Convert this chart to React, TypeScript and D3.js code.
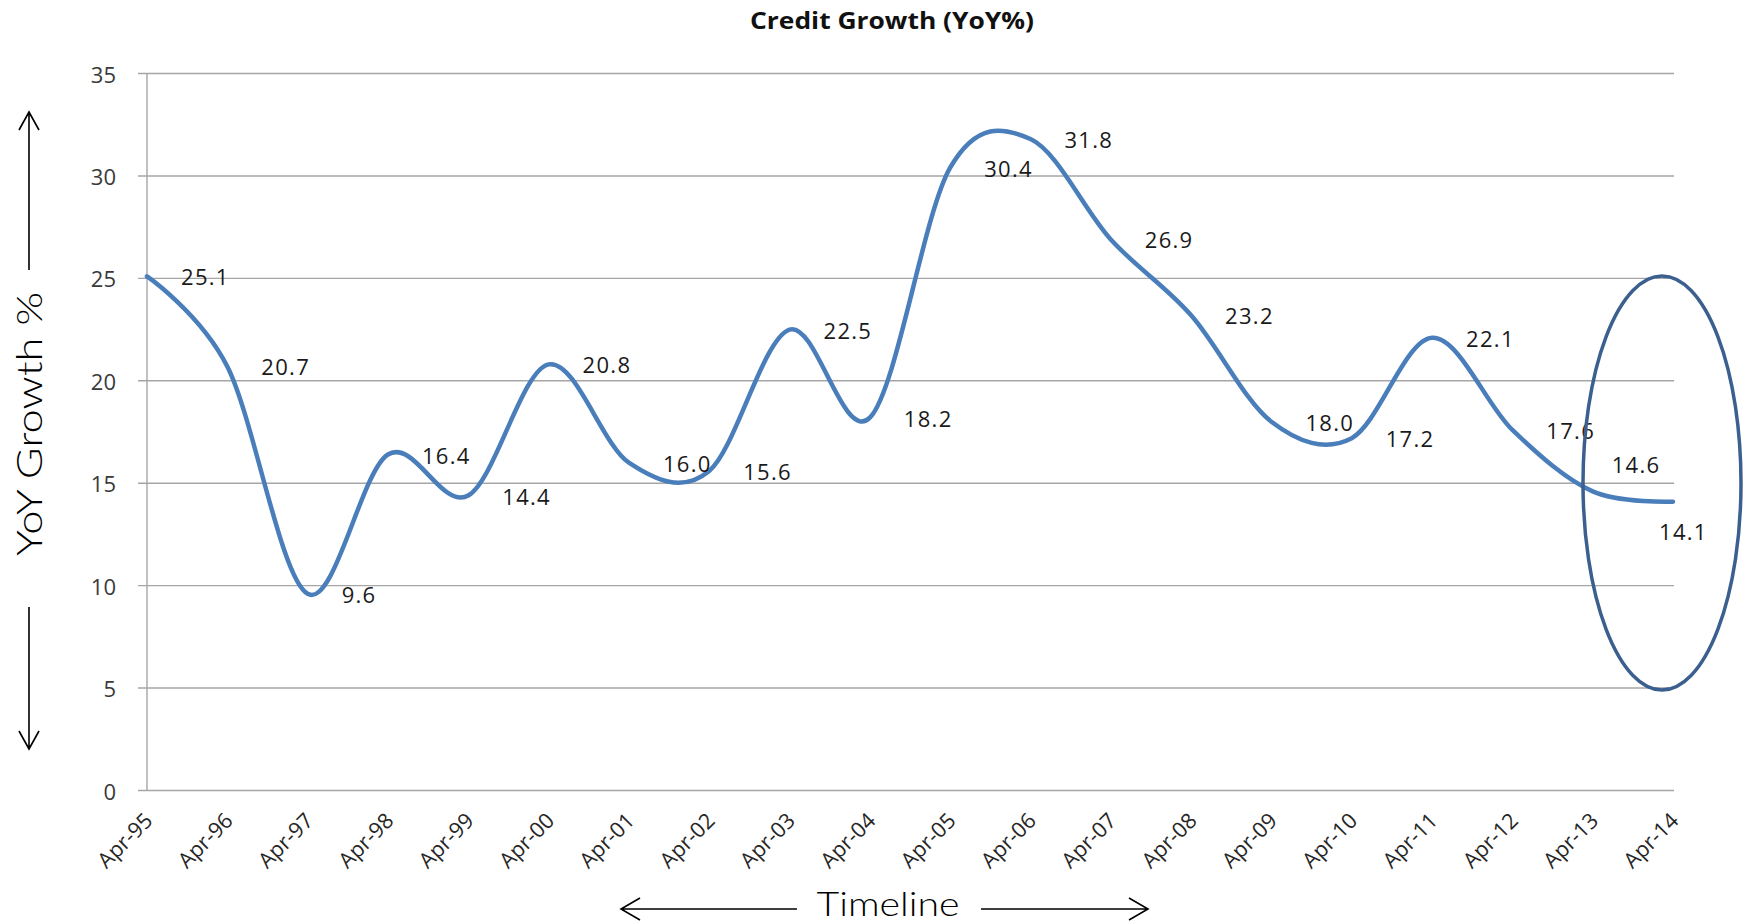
import React from "react";
import * as d3 from "d3";

const categories = [
  "Apr-95", "Apr-96", "Apr-97", "Apr-98", "Apr-99", "Apr-00", "Apr-01", "Apr-02", "Apr-03", "Apr-04",
  "Apr-05", "Apr-06", "Apr-07", "Apr-08", "Apr-09", "Apr-10", "Apr-11", "Apr-12", "Apr-13", "Apr-14",
];
const growth = [
  25.1, 20.7, 9.6, 16.4, 14.4, 20.8, 16.0, 15.6, 22.5, 18.2,
  30.4, 31.8, 26.9, 23.2, 18.0, 17.2, 22.1, 17.6, 14.6, 14.1,
];
const yTicks = [0, 5, 10, 15, 20, 25, 30, 35];
const title = "Credit Growth (YoY%)";
const yTitle = "YoY Growth %";
const xTitle = "Timeline";

// label placement tweaks (index -> offset) for the manually moved labels
const labelShift: Record<number, [number, number]> = {
  18: [19, -27],
  19: [-14, 29],
};

const W = 1743;
const H = 924;
const left = 147;
const right = 1673;
const top = 73.5;
const bottom = 790.5;

export default function App() {
  const x = d3.scalePoint<string>().domain(categories).range([left, right]);
  const y = d3.scaleLinear().domain([0, 35]).range([bottom, top]);
  const data = categories.map((c, i) => ({ c, v: growth[i], i }));
  const line = d3
    .line<{ c: string; v: number }>()
    .x((d) => x(d.c) as number)
    .y((d) => y(d.v))
    .curve(d3.curveCardinal.tension(0));

  const font = "'Open Sans', 'Noto Sans', sans-serif";
  const thin = "Lato, 'Noto Sans', sans-serif";

  const arrowV = (x0: number, y0: number, y1: number) => {
    const dir = y1 < y0 ? 1 : -1;
    return `M${x0},${y0}L${x0},${y1}M${x0 - 10},${y1 + dir * 18}L${x0},${y1}L${x0 + 10},${y1 + dir * 18}`;
  };
  const arrowH = (y0: number, x0: number, x1: number) => {
    const dir = x1 < x0 ? 1 : -1;
    return `M${x0},${y0}L${x1},${y0}M${x1 + dir * 19},${y0 - 11}L${x1},${y0}L${x1 + dir * 19},${y0 + 11}`;
  };

  return (
    <svg
      width={W}
      height={H}
      style={{ position: "absolute", left: 0, top: 0, background: "#fff" }}
    >
      <text
        x={892}
        y={29}
        textAnchor="middle"
        fontFamily={font}
        fontWeight={700}
        fontSize={23}
        textLength={284}
        lengthAdjust="spacingAndGlyphs"
        fill="#111"
      >
        {title}
      </text>

      {/* gridlines */}
      {yTicks.map((t) => (
        <line key={"g" + t} x1={138} x2={right + 1} y1={y(t)} y2={y(t)} stroke="#a6a6a6" strokeWidth={1.4} />
      ))}
      <line x1={left} x2={left} y1={top} y2={bottom} stroke="#a6a6a6" strokeWidth={1.4} />

      {/* y tick labels */}
      {yTicks.map((t) => (
        <text
          key={"yt" + t}
          x={116}
          y={y(t)}
          textAnchor="end"
          dominantBaseline="central"
          fontFamily={font}
          fontSize={22}
          fill="#3a3a3a"
        >
          {t}
        </text>
      ))}

      {/* x tick labels */}
      {categories.map((c) => (
        <text
          key={"xt" + c}
          transform={`translate(${(x(c) as number) + 7},822) rotate(-45)`}
          textAnchor="end"
          fontFamily={font}
          fontSize={21.5}
          fill="#262626"
        >
          {c}
        </text>
      ))}

      {/* line */}
      <path d={line(data) || ""} fill="none" stroke="#4a7ebb" strokeWidth={4.5} strokeLinejoin="round" strokeLinecap="round" />

      {/* data labels */}
      {data.map((d) => {
        const [dx, dy] = labelShift[d.i] || [34, 0];
        return (
          <text
            key={"dl" + d.i}
            x={(x(d.c) as number) + dx}
            y={y(d.v) + dy}
            dominantBaseline="central"
            fontFamily={font}
            fontSize={22}
            letterSpacing={1.3}
            fill="#1a1a1a"
          >
            {d.v.toFixed(1)}
          </text>
        );
      })}

      {/* highlight ellipse */}
      <ellipse cx={1662} cy={483} rx={79} ry={207} fill="none" stroke="#3b5f8e" strokeWidth={3.5} />

      {/* y axis title with arrows */}
      <path d={arrowV(29, 270, 112)} fill="none" stroke="#000" strokeWidth={1.6} />
      <path d={arrowV(29, 607, 749)} fill="none" stroke="#000" strokeWidth={1.6} />
      <text
        transform="translate(42,424) rotate(-90)"
        textAnchor="middle"
        fontFamily={thin}
        fontWeight={300}
        fontSize={36}
        textLength={264}
        lengthAdjust="spacingAndGlyphs"
        fill="#000"
      >
        {yTitle}
      </text>

      {/* x axis title with arrows */}
      <path d={arrowH(909, 797, 621)} fill="none" stroke="#000" strokeWidth={1.6} />
      <path d={arrowH(909, 981, 1148)} fill="none" stroke="#000" strokeWidth={1.6} />
      <text
        x={888}
        y={916}
        textAnchor="middle"
        fontFamily={thin}
        fontWeight={300}
        fontSize={34}
        textLength={143}
        lengthAdjust="spacingAndGlyphs"
        fill="#000"
      >
        {xTitle}
      </text>
    </svg>
  );
}
